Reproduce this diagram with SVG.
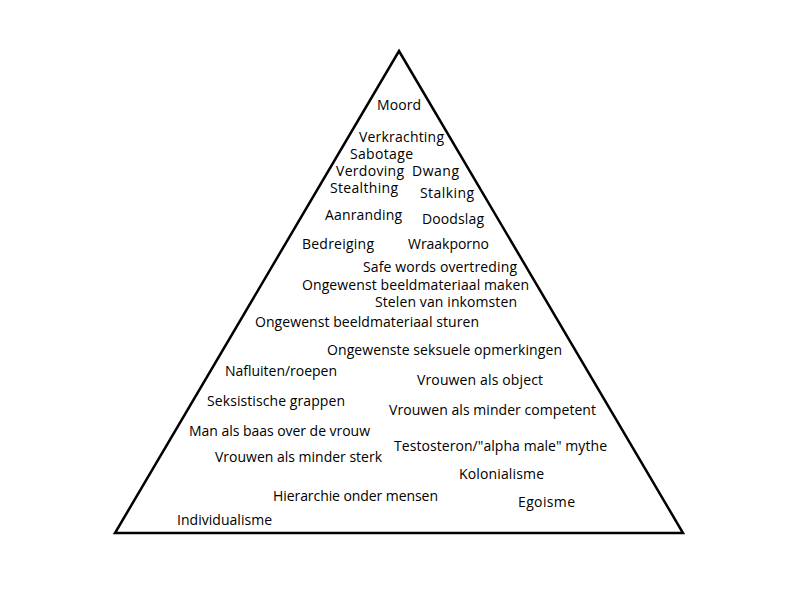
<svg xmlns="http://www.w3.org/2000/svg" width="800" height="600" viewBox="0 0 800 600">
<style>
  text { font-family: "Open Sans", "Lato", sans-serif; font-size: 14px; fill: #000; }
  .tri { fill: none; stroke: #000; stroke-width: 2.5; stroke-linejoin: miter; }
</style>
<rect width="800" height="600" fill="#fff"/>
<g id="pyramid">
  <polygon class="tri" points="399,51 683,533 115,533"/>
</g>
<g id="labels" lengthAdjust="spacingAndGlyphs">
  <text x="377" y="110" textLength="44">Moord</text>
  <text x="359" y="142" textLength="85">Verkrachting</text>
  <text x="350" y="159" textLength="63">Sabotage</text>
  <text x="336" y="176" textLength="68">Verdoving</text>
  <text x="412" y="176" textLength="47">Dwang</text>
  <text x="330" y="193" textLength="68">Stealthing</text>
  <text x="420" y="198" textLength="54">Stalking</text>
  <text x="325" y="220" textLength="77">Aanranding</text>
  <text x="422" y="224" textLength="62">Doodslag</text>
  <text x="302" y="249" textLength="72">Bedreiging</text>
  <text x="408" y="249" textLength="81">Wraakporno</text>
  <text x="363" y="272" textLength="154">Safe words overtreding</text>
  <text x="302" y="290" textLength="227">Ongewenst beeldmateriaal maken</text>
  <text x="375" y="307" textLength="142">Stelen van inkomsten</text>
  <text x="255" y="327" textLength="224">Ongewenst beeldmateriaal sturen</text>
  <text x="327" y="355" textLength="235">Ongewenste seksuele opmerkingen</text>
  <text x="225" y="376" textLength="112">Nafluiten/roepen</text>
  <text x="417" y="385" textLength="126">Vrouwen als object</text>
  <text x="207" y="406" textLength="138">Seksistische grappen</text>
  <text x="389" y="415" textLength="207">Vrouwen als minder competent</text>
  <text x="189" y="436" textLength="181">Man als baas over de vrouw</text>
  <text x="394" y="451" textLength="213">Testosteron/"alpha male" mythe</text>
  <text x="215" y="462" textLength="167">Vrouwen als minder sterk</text>
  <text x="459" y="479" textLength="85">Kolonialisme</text>
  <text x="273" y="501" textLength="165">Hierarchie onder mensen</text>
  <text x="518" y="507" textLength="57">Egoisme</text>
  <text x="177" y="525" textLength="95">Individualisme</text>
</g>
</svg>
